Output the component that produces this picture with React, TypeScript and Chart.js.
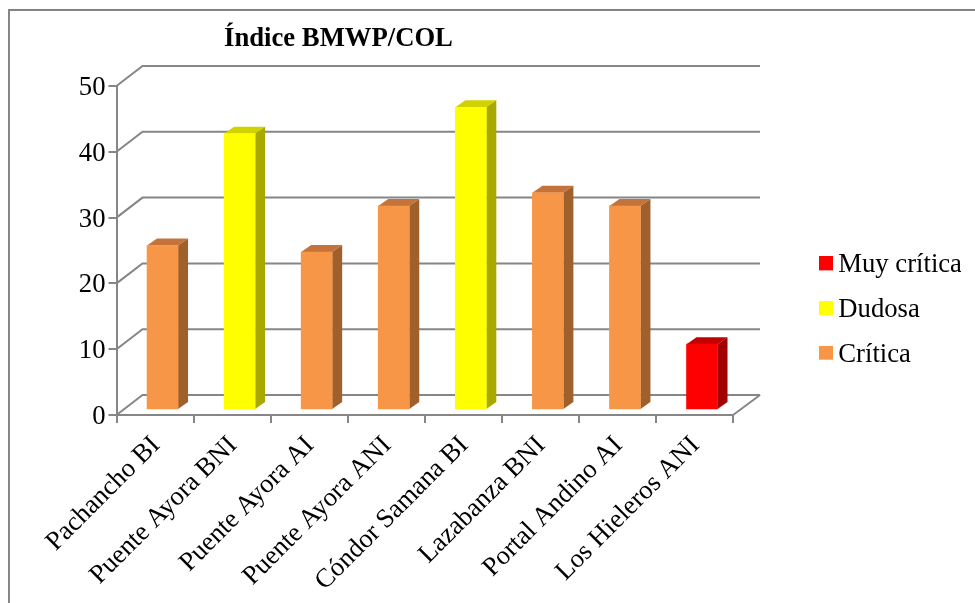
import React, { useEffect, useRef } from "react";
import { Chart, registerables } from "chart.js";

Chart.register(...registerables);

const categories = [
  "Pachancho BI",
  "Puente Ayora BNI",
  "Puente Ayora AI",
  "Puente Ayora ANI",
  "Cóndor Samana BI",
  "Lazabanza BNI",
  "Portal Andino AI",
  "Los Hieleros ANI",
];
const muyCritica = [null, null, null, null, null, null, null, 10];
const dudosa = [null, 42, null, null, 46, null, null, null];
const critica = [25, null, 24, 31, null, 33, 31, null];
const titleText = "Índice BMWP/COL";

const SERIF = "'Liberation Serif', 'Times New Roman', serif";
const FONT_SIZE = 26.67;
const AXIS = "#868686";
const WALL = { dx: 26, dy: 20 };
const BAR_SHIFT = { dx: 7.5, dy: -5 };
const BAR_DEPTH = { dx: 10, dy: 7 };

const palette = [
  { front: "#FF0000", top: "#C40000", side: "#A20000" },
  { front: "#FFFF00", top: "#D2D200", side: "#A8A800" },
  { front: "#F79646", top: "#C4743A", side: "#A0602C" },
];

const swatch = (color: string) => {
  const c = document.createElement("canvas");
  c.width = 22;
  c.height = 18;
  const g = c.getContext("2d")!;
  g.fillStyle = color;
  g.fillRect(8, 0, 14, 14);
  return c;
};

const wallPlugin = {
  id: "wall3d",
  afterLayout(chart: any) {
    if (chart.titleBlock) {
      chart.titleBlock.left = 0;
      chart.titleBlock.right = 677;
    }
    const lg = chart.legend;
    if (lg) {
      const h = lg.bottom - lg.top;
      lg.left = 819 - lg.options.labels.padding;
      lg.right = lg.left + 160;
      lg.top = 310 - h / 2;
      lg.bottom = lg.top + h;
    }
  },
  beforeDatasetsDraw(chart: any) {
    const { ctx, chartArea, scales } = chart;
    const { left, right, bottom } = chartArea;
    ctx.save();
    ctx.strokeStyle = AXIS;
    ctx.lineWidth = 2;
    scales.y.ticks.forEach((t: any) => {
      const y = scales.y.getPixelForValue(t.value);
      ctx.beginPath();
      ctx.moveTo(left, y);
      ctx.lineTo(left + WALL.dx, y - WALL.dy);
      ctx.lineTo(right + WALL.dx + 1, y - WALL.dy);
      ctx.stroke();
    });
    ctx.beginPath();
    ctx.moveTo(right, bottom);
    ctx.lineTo(right + WALL.dx + 1, bottom - WALL.dy);
    ctx.stroke();
    ctx.restore();

    ctx.save();
    ctx.translate(BAR_SHIFT.dx, BAR_SHIFT.dy);
    chart.data.datasets.forEach((ds: any, di: number) => {
      const col = palette[di];
      chart.getDatasetMeta(di).data.forEach((bar: any, idx: number) => {
        if (ds.data[idx] == null) return;
        const { x, y, base, width } = bar.getProps(["x", "y", "base", "width"], true);
        const l = x - width / 2;
        const r = x + width / 2;
        ctx.fillStyle = col.top;
        ctx.beginPath();
        ctx.moveTo(l, y);
        ctx.lineTo(l + BAR_DEPTH.dx, y - BAR_DEPTH.dy);
        ctx.lineTo(r + BAR_DEPTH.dx, y - BAR_DEPTH.dy);
        ctx.lineTo(r, y);
        ctx.closePath();
        ctx.fill();
        ctx.fillStyle = col.side;
        ctx.beginPath();
        ctx.moveTo(r, y);
        ctx.lineTo(r + BAR_DEPTH.dx, y - BAR_DEPTH.dy);
        ctx.lineTo(r + BAR_DEPTH.dx, base - BAR_DEPTH.dy);
        ctx.lineTo(r, base);
        ctx.closePath();
        ctx.fill();
      });
    });
  },
  afterDatasetsDraw(chart: any) {
    chart.ctx.restore();
  },
};

export default function App() {
  const ref = useRef<HTMLCanvasElement>(null);
  useEffect(() => {
    const names = ["Muy crítica", "Dudosa", "Crítica"];
    const series = [muyCritica, dudosa, critica];
    const chart = new Chart(ref.current!, {
      type: "bar",
      data: {
        labels: categories,
        datasets: series.map((data, i) => ({
          label: names[i],
          data,
          backgroundColor: palette[i].front,
          barThickness: 31,
          clip: false,
        })),
      } as any,
      plugins: [wallPlugin],
      options: {
        responsive: false,
        animation: false,
        layout: { padding: { top: 0, left: 0, right: 71, bottom: 0 } },
        scales: {
          x: {
            stacked: true,
            afterFit: (s: any) => {
              s.height = 188;
            },
            grid: { drawOnChartArea: false, color: AXIS, lineWidth: 2, tickLength: 8 },
            border: { color: AXIS, width: 2 },
            ticks: {
              color: "#000",
              font: { family: SERIF, size: FONT_SIZE },
              minRotation: 45,
              maxRotation: 45,
              autoSkip: false,
              padding: 7,
              labelOffset: 1,
            },
          },
          y: {
            stacked: true,
            min: 0,
            max: 50,
            afterFit: (s: any) => {
              s.width = 116.5;
            },
            grid: { drawOnChartArea: false, color: AXIS, lineWidth: 2, tickLength: 8 },
            border: { color: AXIS, width: 2 },
            ticks: {
              stepSize: 10,
              color: "#000",
              font: { family: SERIF, size: FONT_SIZE },
              padding: 3,
              labelOffset: 2,
            },
          },
        },
        plugins: {
          tooltip: { enabled: false },
          title: {
            display: true,
            text: titleText,
            color: "#000",
            font: { family: SERIF, size: FONT_SIZE, weight: "bold" },
            padding: { top: 23, bottom: 31 },
          },
          legend: {
            position: "right",
            labels: {
              color: "#000",
              font: { family: SERIF, size: FONT_SIZE },
              usePointStyle: true,
              pointStyleWidth: 6,
              boxHeight: 14,
              padding: 18,
              generateLabels: () =>
                names.map((text, i) => ({
                  text,
                  fillStyle: palette[i].front,
                  strokeStyle: palette[i].front,
                  lineWidth: 0,
                  hidden: false,
                  datasetIndex: i,
                  pointStyle: swatch(palette[i].front),
                })),
            },
          },
        },
      },
    } as any);
    return () => chart.destroy();
  }, []);
  return (
    <div style={{ position: "absolute", left: 0, top: 0, width: 975, height: 603, overflow: "hidden", background: "#fff" }}>
      <canvas ref={ref} width={975} height={603} style={{ position: "absolute", left: 0, top: 0 }} />
      <div style={{ position: "absolute", left: 8, top: 10, width: 967, height: 1, background: "#868686" }} />
      <div style={{ position: "absolute", left: 8, top: 9, width: 967, height: 1, background: "#C0702E" }} />
      <div style={{ position: "absolute", left: 8, top: 10, width: 2, height: 593, background: "#868686" }} />
    </div>
  );
}
